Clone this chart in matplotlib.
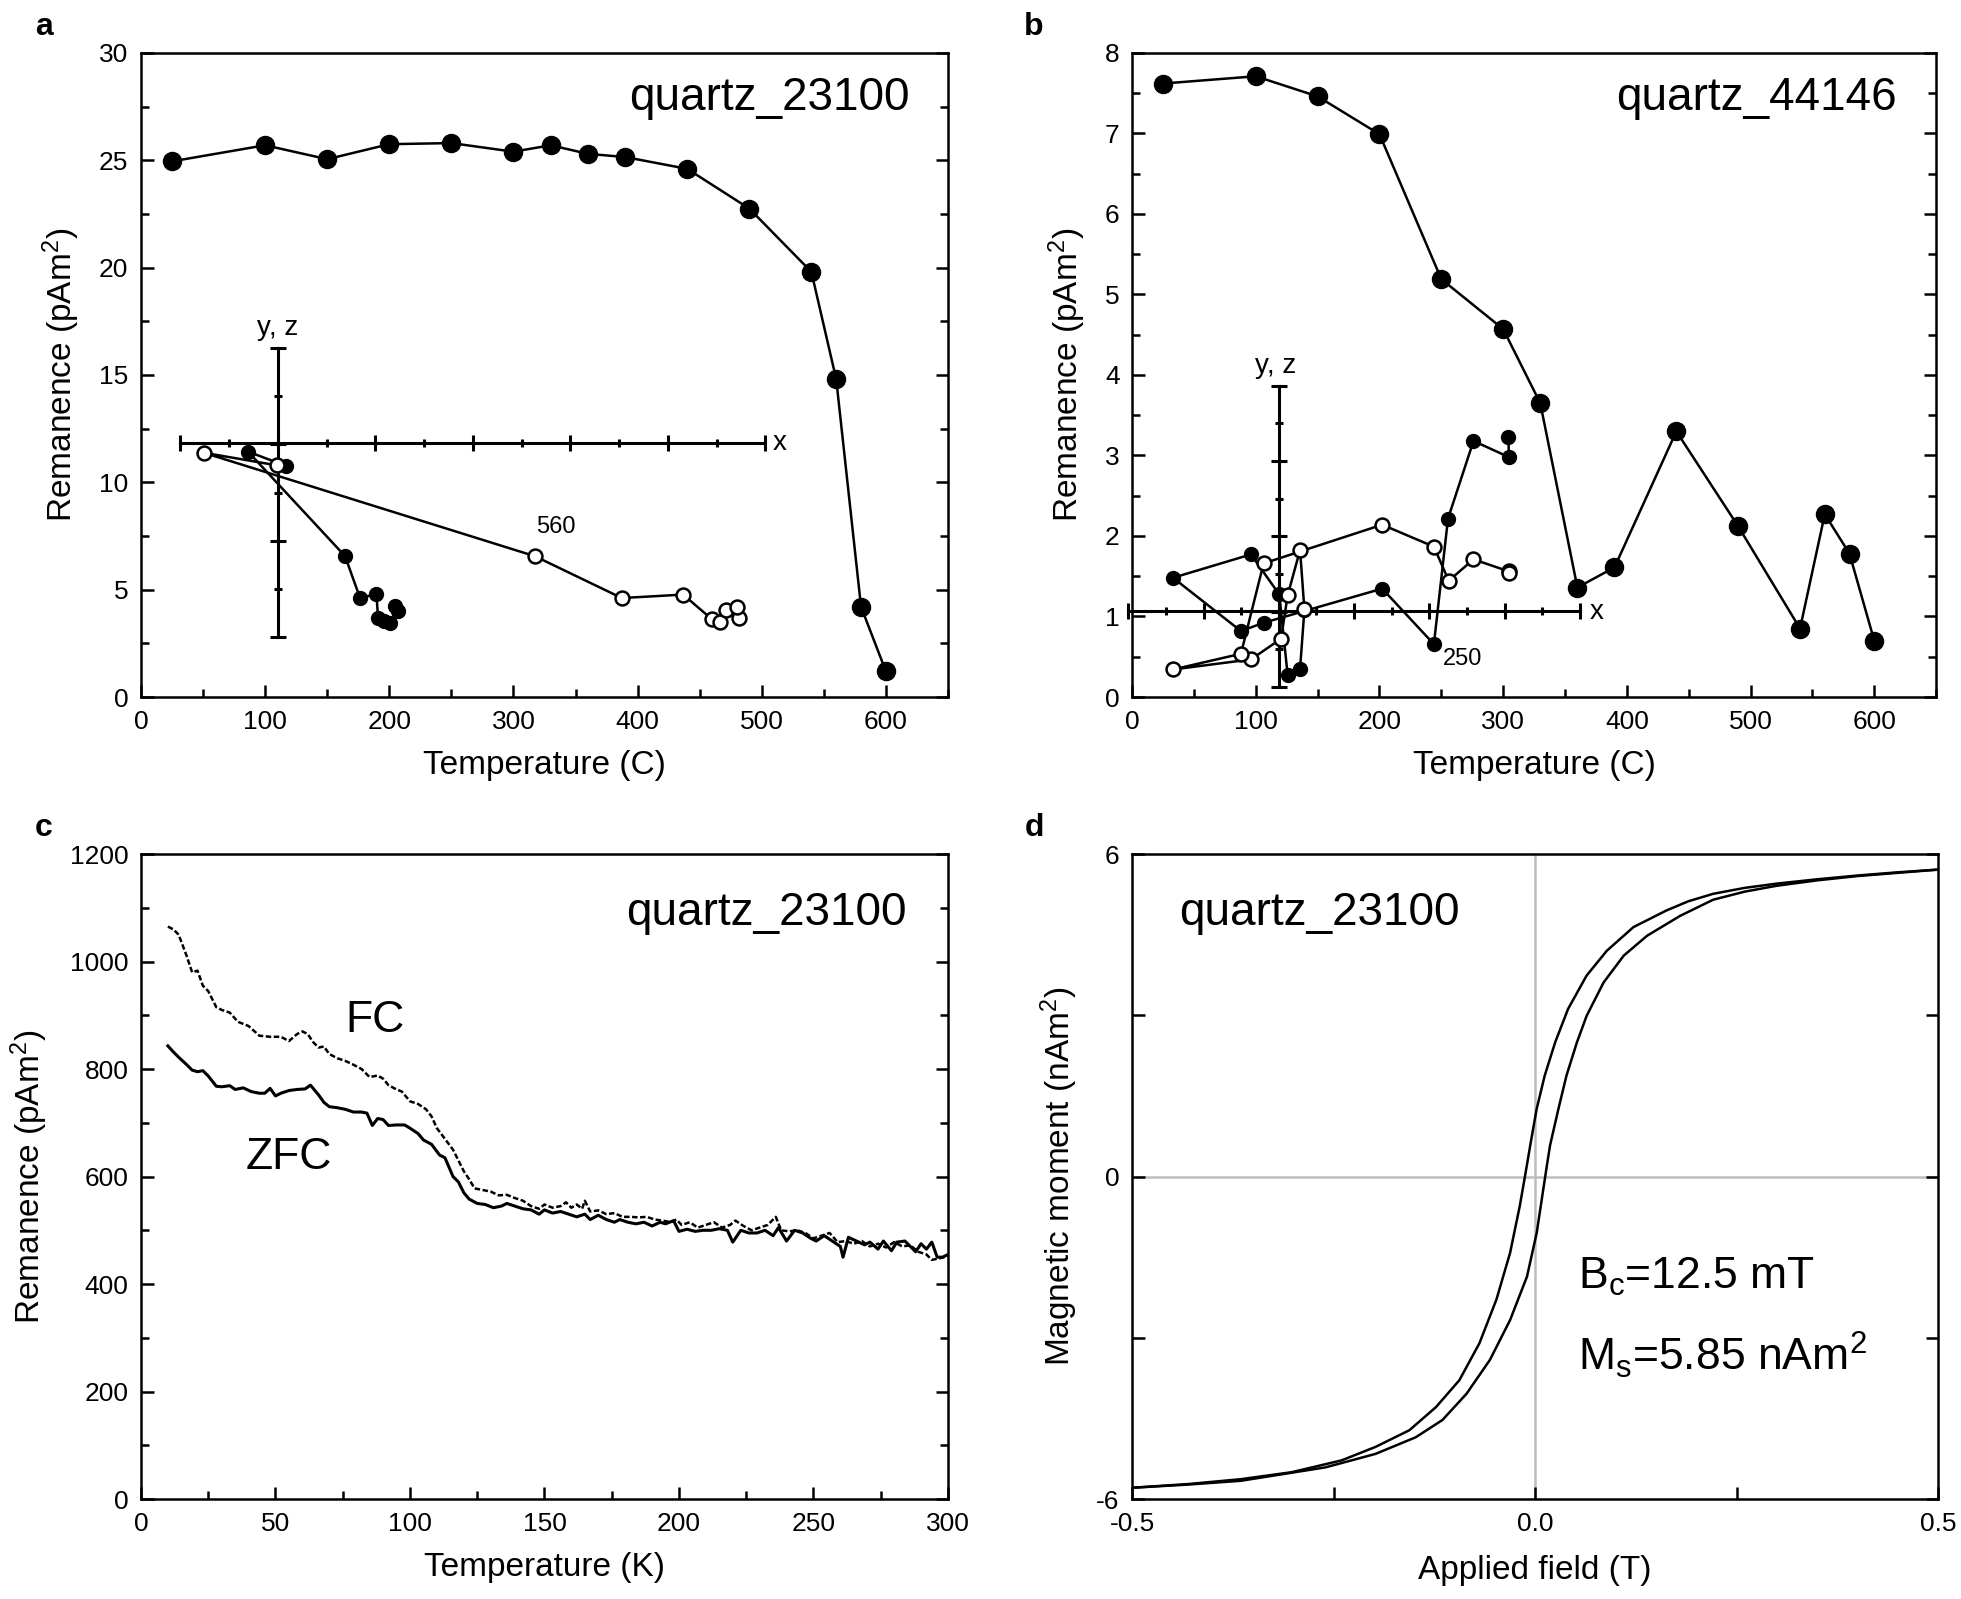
import numpy as np
import matplotlib
matplotlib.use("Agg")
from matplotlib import pyplot as plt
from matplotlib.ticker import MultipleLocator, FixedLocator

plt.rcParams['font.family'] = ['Liberation Sans', 'DejaVu Sans']
plt.rcParams['mathtext.default'] = 'regular'

# ---------------- panel a: quartz_23100 thermal demagnetisation ----------------
a_temp = [25, 100, 150, 200, 250, 300, 330, 360, 390, 440, 490, 540, 560, 580, 600]
a_rem = [24.95, 25.7, 25.05, 25.75, 25.8, 25.4, 25.7, 25.3, 25.15, 24.6, 22.75,
         19.8, 14.8, 4.2, 1.2]
# Zijderveld inset (drawn in the same data frame)
a_hz_x = [116.5, 86.2, 164.4, 176.5, 189.6, 191.0, 196.0, 200.7, 206.8, 204.2]
a_hz_y = [10.77, 11.43, 6.56, 4.60, 4.80, 3.67, 3.55, 3.43, 4.02, 4.26]
a_vt_x = [109.4, 50.4, 317.2, 387.3, 436.7, 459.9, 466.4, 471.5, 481.6, 480.0]
a_vt_y = [10.79, 11.38, 6.56, 4.61, 4.77, 3.62, 3.48, 4.07, 3.67, 4.21]
a_inset_h = (31.8, 503.0, 11.85)   # x from, x to, at y
a_inset_v = (2.8, 16.25, 110.4)    # y from, y to, at x

# ---------------- panel b: quartz_44146 ----------------
b_temp = [25, 100, 150, 200, 250, 300, 330, 360, 390, 440, 490, 540, 560, 580, 600]
b_rem = [7.62, 7.71, 7.46, 6.99, 5.19, 4.57, 3.65, 1.36, 1.61, 3.30, 2.12, 0.85,
         2.27, 1.78, 0.70]
b_hz_x = [139.3, 135.8, 125.8, 119.0, 96.1, 33.1, 88.0, 106.3, 202.2, 244.0,
          255.4, 276.0, 304.6, 304.3]
b_hz_y = [1.08, 0.351, 0.268, 1.274, 1.771, 1.481, 0.819, 0.922, 1.346, 0.656,
          2.215, 3.18, 2.98, 3.23]
b_vt_x = [139.3, 135.8, 125.8, 120.4, 96.1, 33.1, 88.0, 106.3, 202.2, 244.0,
          256.0, 276.0, 304.6, 304.6]
b_vt_y = [1.088, 1.825, 1.266, 0.723, 0.467, 0.342, 0.537, 1.659, 2.14, 1.867,
          1.444, 1.71, 1.56, 1.54]
b_inset_h = (-3.1, 362.0, 1.067)
b_inset_v = (0.123, 3.865, 118.5)

# ---------------- panel c: low temperature remanence ----------------
fc_t = [10, 12, 14, 17, 19, 21, 23, 25, 28, 30, 33, 36, 40, 44, 48, 52, 55, 58,
        60, 62, 64, 66, 68, 70, 73, 76, 79, 82, 85, 88, 90, 92, 95, 97, 100,
        103, 106, 108, 110, 113, 116, 118, 120, 122, 124, 127, 130, 133, 136,
        139, 142, 145, 148, 150, 153, 156, 158, 160, 162, 164, 165, 167, 170,
        173, 176, 179, 182, 185, 188, 191, 194, 197, 199, 201, 204, 207, 210,
        213, 216, 219, 221, 224, 227, 230, 233, 236, 238, 241, 244, 247, 250,
        253, 256, 259, 262, 265, 268, 271, 274, 277, 280, 283, 286, 289, 292,
        294, 297, 300]
fc_m = [1065, 1060, 1050, 1010, 980, 983, 955, 945, 915, 910, 905, 888, 880,
        862, 860, 860, 852, 865, 870, 865, 850, 840, 842, 828, 820, 815, 808,
        800, 785, 788, 782, 770, 762, 758, 740, 735, 725, 712, 690, 670, 650,
        630, 610, 595, 578, 575, 572, 565, 566, 560, 555, 545, 540, 548, 542,
        545, 552, 542, 548, 540, 555, 535, 537, 530, 532, 525, 525, 524, 525,
        520, 518, 515, 520, 510, 515, 505, 510, 515, 505, 510, 518, 508, 500,
        505, 510, 525, 500, 498, 500, 495, 485, 490, 495, 478, 480, 475, 480,
        470, 475, 468, 478, 470, 472, 460, 455, 445, 448, 452]
zfc_t = [10, 12, 14, 17, 19, 21, 23, 25, 28, 30, 33, 35, 38, 41, 44, 46, 48,
         50, 52, 55, 58, 61, 63, 66, 68, 70, 73, 76, 79, 82, 84, 86, 88, 90,
         92, 95, 98, 100, 103, 105, 108, 111, 113, 116, 118, 120, 122, 125,
         128, 131, 134, 136, 139, 142, 145, 148, 150, 153, 156, 159, 162, 165,
         167, 170, 173, 176, 178, 181, 184, 187, 190, 193, 195, 198, 200, 203,
         206, 209, 212, 215, 218, 220, 223, 226, 229, 232, 235, 237, 240, 243,
         246, 249, 251, 254, 257, 260, 261, 263, 266, 269, 271, 274, 276, 279,
         281, 284, 286, 288, 290, 292, 294, 296, 298, 300]
zfc_m = [843, 832, 822, 808, 798, 795, 797, 787, 768, 767, 769, 762, 765, 758,
         755, 755, 764, 750, 755, 760, 762, 763, 770, 752, 738, 730, 728, 725,
         720, 720, 718, 695, 708, 706, 695, 696, 696, 690, 680, 668, 660, 640,
         635, 600, 590, 570, 558, 550, 548, 542, 545, 550, 545, 540, 538, 530,
         538, 532, 535, 530, 525, 530, 520, 528, 520, 515, 520, 515, 512, 515,
         508, 515, 512, 518, 498, 502, 498, 500, 500, 503, 500, 478, 500, 495,
         495, 500, 490, 505, 480, 500, 495, 485, 480, 490, 480, 470, 450, 487,
         480, 473, 478, 465, 480, 462, 478, 480, 470, 460, 475, 465, 478, 450,
         450, 455]

# ---------------- panel d: hysteresis loop ----------------
down_b = [0.5, 0.45, 0.4, 0.35, 0.3, 0.26, 0.221, 0.19, 0.163, 0.122, 0.089,
          0.064, 0.041, 0.025, 0.012, 0.002, -0.006, -0.012, -0.019, -0.031,
          -0.048, -0.069, -0.094, -0.123, -0.156, -0.198, -0.24, -0.302,
          -0.365, -0.43, -0.5]
down_m = [5.71, 5.66, 5.60, 5.53, 5.45, 5.37, 5.26, 5.12, 4.95, 4.64, 4.20,
          3.74, 3.12, 2.50, 1.88, 1.26, 0.58, 0.05, -0.55, -1.42, -2.29,
          -3.10, -3.79, -4.29, -4.72, -5.03, -5.28, -5.50, -5.63, -5.72, -5.79]
up_b = [-0.5, -0.43, -0.365, -0.323, -0.26, -0.198, -0.148, -0.115, -0.085,
        -0.056, -0.031, -0.010, 0.002, 0.0146, 0.0186, 0.029, 0.039, 0.052,
        0.064, 0.085, 0.110, 0.139, 0.180, 0.221, 0.26, 0.3, 0.35, 0.4, 0.45,
        0.5]
up_m = [-5.79, -5.73, -5.66, -5.56, -5.41, -5.16, -4.85, -4.53, -4.04, -3.41,
        -2.67, -1.86, -1.05, 0.2, 0.58, 1.26, 1.88, 2.50, 2.99, 3.61, 4.11,
        4.48, 4.85, 5.15, 5.30, 5.41, 5.51, 5.59, 5.65, 5.71]

TICK_FS = 19
LABEL_FS = 24
NAME_FS = 33
LW = 1.8


def style_axes(ax):
    for s in ax.spines.values():
        s.set_linewidth(1.8)
    ax.tick_params(which='both', direction='in', right=True, top=False,
                   width=1.8, labelsize=TICK_FS, pad=9)
    ax.tick_params(which='major', length=9)
    ax.tick_params(which='minor', length=6)


def inset_axes_cross(ax, h, v, n_h, n_v, xlabel_pos, yz_pos):
    x0, x1, yh = h
    y0, y1, xv = v
    ax.plot([x0, x1], [yh, yh], color='black', lw=2.2, clip_on=False, zorder=2)
    ax.plot([xv, xv], [y0, y1], color='black', lw=2.2, clip_on=False, zorder=2)
    hx = np.linspace(x0, x1, n_h + 1)
    vy = np.linspace(y1, y0, n_v + 1)
    ax.plot(hx[::2], [yh] * len(hx[::2]), ls='none', marker='|', ms=11,
            mew=2.2, color='black', clip_on=False, zorder=2)
    ax.plot(hx[1::2], [yh] * len(hx[1::2]), ls='none', marker='|', ms=6,
            mew=2.2, color='black', clip_on=False, zorder=2)
    ax.plot([xv] * len(vy[::2]), vy[::2], ls='none', marker='_', ms=11,
            mew=2.2, color='black', clip_on=False, zorder=2)
    ax.plot([xv] * len(vy[1::2]), vy[1::2], ls='none', marker='_', ms=6,
            mew=2.2, color='black', clip_on=False, zorder=2)
    ax.text(xlabel_pos[0], xlabel_pos[1], 'x', fontsize=20, ha='left',
            va='center')
    ax.text(yz_pos[0], yz_pos[1], 'y, z', fontsize=20, ha='center',
            va='bottom')


def zijderveld(ax, hx, hy, vx, vy):
    ax.plot(hx, hy, '-o', color='black', lw=LW, ms=10, mfc='black',
            mec='black', zorder=3)
    ax.plot(vx, vy, '-o', color='black', lw=LW, ms=10, mfc='white',
            mec='black', mew=1.8, zorder=4)


fig = plt.figure(figsize=(19.61, 15.99), dpi=100)
ax_a = fig.add_axes([0.0719, 0.5641, 0.4115, 0.4028])
ax_b = fig.add_axes([0.5773, 0.5641, 0.4100, 0.4028])
ax_c = fig.add_axes([0.0719, 0.0625, 0.4115, 0.4034])
ax_d = fig.add_axes([0.5773, 0.0625, 0.4110, 0.4034])

# panel a
ax_a.plot(a_temp, a_rem, '-o', color='black', lw=LW, ms=13, zorder=3)
inset_axes_cross(ax_a, a_inset_h, a_inset_v, 12, 6, (509, 11.85), (110, 16.6))
zijderveld(ax_a, a_hz_x, a_hz_y, a_vt_x, a_vt_y)
ax_a.text(334, 7.4, '560', fontsize=17, ha='center', va='bottom')
ax_a.set_xlim(0, 650)
ax_a.set_ylim(0, 30)
ax_a.xaxis.set_major_locator(MultipleLocator(100))
ax_a.xaxis.set_minor_locator(MultipleLocator(50))
ax_a.yaxis.set_major_locator(MultipleLocator(5))
ax_a.yaxis.set_minor_locator(MultipleLocator(2.5))
ax_a.set_xlabel('Temperature (C)', fontsize=LABEL_FS, labelpad=12)
ax_a.set_ylabel('Remanence (pAm$^2$)', fontsize=LABEL_FS, labelpad=12)
ax_a.text(0.953, 0.93, 'quartz_23100', transform=ax_a.transAxes,
          fontsize=NAME_FS, ha='right', va='center')
style_axes(ax_a)

# panel b
ax_b.plot(b_temp, b_rem, '-o', color='black', lw=LW, ms=13, zorder=3)
inset_axes_cross(ax_b, b_inset_h, b_inset_v, 12, 8, (370, 1.05), (116, 3.95))
zijderveld(ax_b, b_hz_x, b_hz_y, b_vt_x, b_vt_y)
ax_b.text(251, 0.47, '250', fontsize=17, ha='left', va='center')
ax_b.set_xlim(0, 650)
ax_b.set_ylim(0, 8)
ax_b.xaxis.set_major_locator(MultipleLocator(100))
ax_b.xaxis.set_minor_locator(MultipleLocator(50))
ax_b.yaxis.set_major_locator(MultipleLocator(1))
ax_b.yaxis.set_minor_locator(MultipleLocator(0.5))
ax_b.set_xlabel('Temperature (C)', fontsize=LABEL_FS, labelpad=12)
ax_b.set_ylabel('Remanence (pAm$^2$)', fontsize=LABEL_FS, labelpad=12)
ax_b.text(0.951, 0.93, 'quartz_44146', transform=ax_b.transAxes,
          fontsize=NAME_FS, ha='right', va='center')
style_axes(ax_b)

# panel c
ax_c.plot(fc_t, fc_m, color='black', lw=LW, dashes=(2.2, 1.0))
ax_c.plot(zfc_t, zfc_m, color='black', lw=LW + 0.4)
ax_c.text(87, 890, 'FC', fontsize=32, ha='center', va='center')
ax_c.text(55, 635, 'ZFC', fontsize=32, ha='center', va='center')
ax_c.set_xlim(0, 300)
ax_c.set_ylim(0, 1200)
ax_c.xaxis.set_major_locator(MultipleLocator(50))
ax_c.xaxis.set_minor_locator(MultipleLocator(25))
ax_c.yaxis.set_major_locator(MultipleLocator(200))
ax_c.yaxis.set_minor_locator(MultipleLocator(100))
ax_c.set_xlabel('Temperature (K)', fontsize=LABEL_FS, labelpad=12)
ax_c.set_ylabel('Remanence (pAm$^2$)', fontsize=LABEL_FS, labelpad=14)
ax_c.text(0.949, 0.908, 'quartz_23100', transform=ax_c.transAxes,
          fontsize=NAME_FS, ha='right', va='center')
style_axes(ax_c)

# panel d
ax_d.axhline(0, color='#bdbdbd', lw=1.8, zorder=1)
ax_d.axvline(0, color='#bdbdbd', lw=1.8, zorder=1)
ax_d.plot(down_b, down_m, color='black', lw=LW, zorder=3)
ax_d.plot(up_b, up_m, color='black', lw=LW, zorder=3)
ax_d.set_xlim(-0.5, 0.5)
ax_d.set_ylim(-6, 6)
ax_d.xaxis.set_major_locator(FixedLocator([-0.5, 0.0, 0.5]))
ax_d.xaxis.set_minor_locator(FixedLocator([-0.25, 0.25]))
ax_d.set_xticklabels(['-0.5', '0.0', '0.5'])
ax_d.yaxis.set_major_locator(FixedLocator([-6, 0, 6]))
ax_d.yaxis.set_minor_locator(FixedLocator([-3, 3]))
ax_d.set_yticklabels(['-6', '0', '6'])
ax_d.set_xlabel('Applied field (T)', fontsize=LABEL_FS, labelpad=14)
ax_d.set_ylabel('Magnetic moment (nAm$^2$)', fontsize=LABEL_FS, labelpad=12)
ax_d.text(0.058, 0.908, 'quartz_23100', transform=ax_d.transAxes,
          fontsize=NAME_FS, ha='left', va='center')
ax_d.text(0.053, -1.87, 'B$_c$=12.5 mT', fontsize=32, ha='left',
          va='center')
ax_d.text(0.053, -3.32, 'M$_s$=5.85 nAm$^2$', fontsize=32, ha='left',
          va='center')
style_axes(ax_d)
ax_d.tick_params(which='minor', length=9)

# panel letters
for letter, (px, py) in zip('abcd', [(44, 27), (1034, 27), (44, 828),
                                     (1034, 828)]):
    fig.text(px / 1961, 1 - py / 1599, letter, fontsize=23,
             fontweight='bold', ha='center', va='center')

fig.savefig('out.png', dpi=100)
